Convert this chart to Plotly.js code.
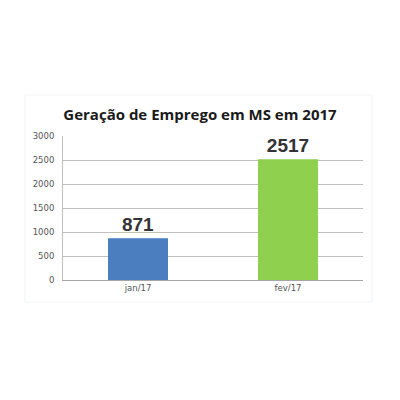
<!DOCTYPE html>
<html>
<head>
<meta charset="utf-8">
<script src="https://cdn.plot.ly/plotly-3.0.1.min.js"></script>
<style>
  html, body { margin: 0; padding: 0; background: #ffffff; }
  #chart { width: 400px; height: 400px; }
</style>
</head>
<body>
<div id="chart"></div>
<script>
var months = ['jan/17', 'fev/17'];
var jobs = [871, 2517];
var barColors = ['#4a7ebf', '#8fd14f'];
var yTicks = [0, 500, 1000, 1500, 2000, 2500, 3000];

var trace = {
  type: 'bar',
  x: months,
  y: jobs,
  text: jobs.map(String),
  textposition: 'outside',
  cliponaxis: false,
  textfont: { family: 'Liberation Sans', size: 19, color: '#333333', weight: 'bold' },
  marker: { color: barColors },
  hoverinfo: 'x+y'
};

var layout = {
  width: 400,
  height: 400,
  margin: { l: 63, r: 37, t: 136, b: 120 },
  paper_bgcolor: '#ffffff',
  plot_bgcolor: '#ffffff',
  showlegend: false,
  bargap: 0.6,
  title: {
    text: 'Geração de Emprego em MS em 2017',
    font: { family: 'Open Sans', size: 15, color: '#1a1a1a', weight: 'bold' },
    x: 0.5,
    xanchor: 'center',
    y: 1 - 115 / 400,
    yanchor: 'middle'
  },
  xaxis: {
    showgrid: false,
    showline: true,
    linecolor: '#a6a6a6',
    linewidth: 1,
    ticks: '',
    tickfont: { family: 'DejaVu Sans', size: 8.5, color: '#555555' },
    fixedrange: true
  },
  yaxis: {
    range: [0, 3000],
    tickvals: yTicks,
    ticktext: yTicks.map(String),
    showgrid: true,
    gridcolor: '#bfbfbf',
    gridwidth: 1,
    showline: true,
    linecolor: '#bfbfbf',
    zeroline: false,
    ticks: '',
    ticklabelstandoff: 6,
    tickfont: { family: 'DejaVu Sans', size: 8.5, color: '#555555' },
    fixedrange: true
  },
  shapes: [{
    type: 'rect',
    xref: 'paper', yref: 'paper',
    x0: -0.127, x1: 1.03, y0: -0.153, y1: 1.285,
    line: { color: '#f1f4f6', width: 1 },
    fillcolor: 'rgba(0,0,0,0)',
    layer: 'below'
  }]
};

Plotly.newPlot('chart', [trace], layout, { displayModeBar: false, staticPlot: true });
</script>
</body>
</html>
